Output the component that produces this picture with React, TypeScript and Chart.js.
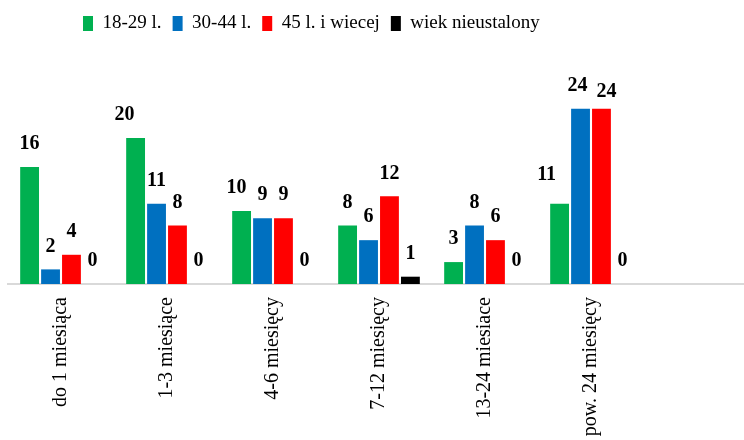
import React, { useEffect, useRef } from 'react';
import { Chart, registerables } from 'chart.js';

Chart.register(...registerables);

const categories = ['do 1 miesiąca', '1-3 miesiące', '4-6 miesięcy', '7-12 miesięcy', '13-24 miesiace', 'pow. 24 miesięcy', ''];
const seriesNames = ['18-29 l.', '30-44 l.', '45 l. i wiecej', 'wiek nieustalony'];
const values1829 = [16, 20, 10, 8, 3, 11, null];
const values3044 = [2, 11, 9, 6, 8, 24, null];
const values45 = [4, 8, 9, 12, 6, 24, null];
const valuesUnknown = [0, 0, 0, 1, 0, 0, null];
const seriesColors = ['#00B050', '#0070C0', '#FF0000', '#000000'];

// label nudges (style: series index -> category index -> [dx, dy])
const LABEL_NUDGE: Record<string, [number, number]> = {
  '0-1': [-11, 0],
  '0-2': [-5, 0],
  '0-5': [-13, -6],
  '1-5': [-3, 0],
  '2-5': [5, 6],
};

const Y_MAX = 33.4;
const FONT = '"Liberation Serif", "Times New Roman", serif';
const LEGEND_DX = 64;
const LEGEND_DY = 3;

const legendShift = {
  id: 'legendShift',
  afterLayout(chart: any) {
    const l = chart.legend;
    if (l) {
      l.left += LEGEND_DX;
      l.right += LEGEND_DX;
      l.top += LEGEND_DY;
      l.bottom += LEGEND_DY;
    }
  },
};

const dataLabels = {
  id: 'dataLabels',
  afterDatasetsDraw(chart: any) {
    const ctx = chart.ctx;
    ctx.save();
    ctx.font = `bold 20px ${FONT}`;
    ctx.fillStyle = '#000';
    ctx.textAlign = 'center';
    ctx.textBaseline = 'middle';
    chart.data.datasets.forEach((ds: any, i: number) => {
      const meta = chart.getDatasetMeta(i);
      meta.data.forEach((el: any, j: number) => {
        const v = ds.data[j];
        if (v === null || v === undefined) return;
        const n = LABEL_NUDGE[`${i}-${j}`] || [0, 0];
        ctx.fillText(String(v), el.x + n[0], el.y - 23 + n[1]);
      });
    });
    ctx.restore();
  },
};

export default function App() {
  const ref = useRef<HTMLCanvasElement>(null);
  useEffect(() => {
    const seriesValues = [values1829, values3044, values45, valuesUnknown];
    const chart = new Chart(ref.current as HTMLCanvasElement, {
      type: 'bar',
      data: {
        labels: categories,
        datasets: seriesNames.map((name, i) => ({
          label: name,
          data: seriesValues[i],
          backgroundColor: seriesColors[i],
          borderWidth: 0,
          categoryPercentage: 0.79,
          barPercentage: 0.9,
        })),
      },
      options: {
        responsive: false,
        animation: false,
        layout: { padding: { left: 8, right: 2, top: 0, bottom: 0 } },
        plugins: {
          legend: {
            position: 'top',
            align: 'start',
            labels: {
              boxWidth: 10,
              boxHeight: 15,
              padding: 11,
              color: '#000',
              font: { family: FONT, size: 19 },
            },
          },
          tooltip: { enabled: false },
        },
        scales: {
          x: {
            grid: { display: false, drawTicks: false },
            border: { display: true, color: '#d9d9d9', width: 2 },
            ticks: {
              autoSkip: false,
              minRotation: 90,
              maxRotation: 90,
              padding: 13,
              color: '#000',
              font: { family: FONT, size: 20 },
            },
            afterFit: (scale: any) => {
              scale.height = 156;
            },
          },
          y: {
            display: false,
            min: 0,
            max: Y_MAX,
          },
        },
      },
      plugins: [legendShift, dataLabels],
    } as any);
    return () => chart.destroy();
  }, []);
  return (
    <div style={{ position: 'absolute', left: 0, top: 0, width: 744, height: 440, overflow: 'hidden', background: '#fff' }}>
      <canvas ref={ref} width={752} height={440} style={{ display: 'block', width: 752, height: 440 }} />
    </div>
  );
}
